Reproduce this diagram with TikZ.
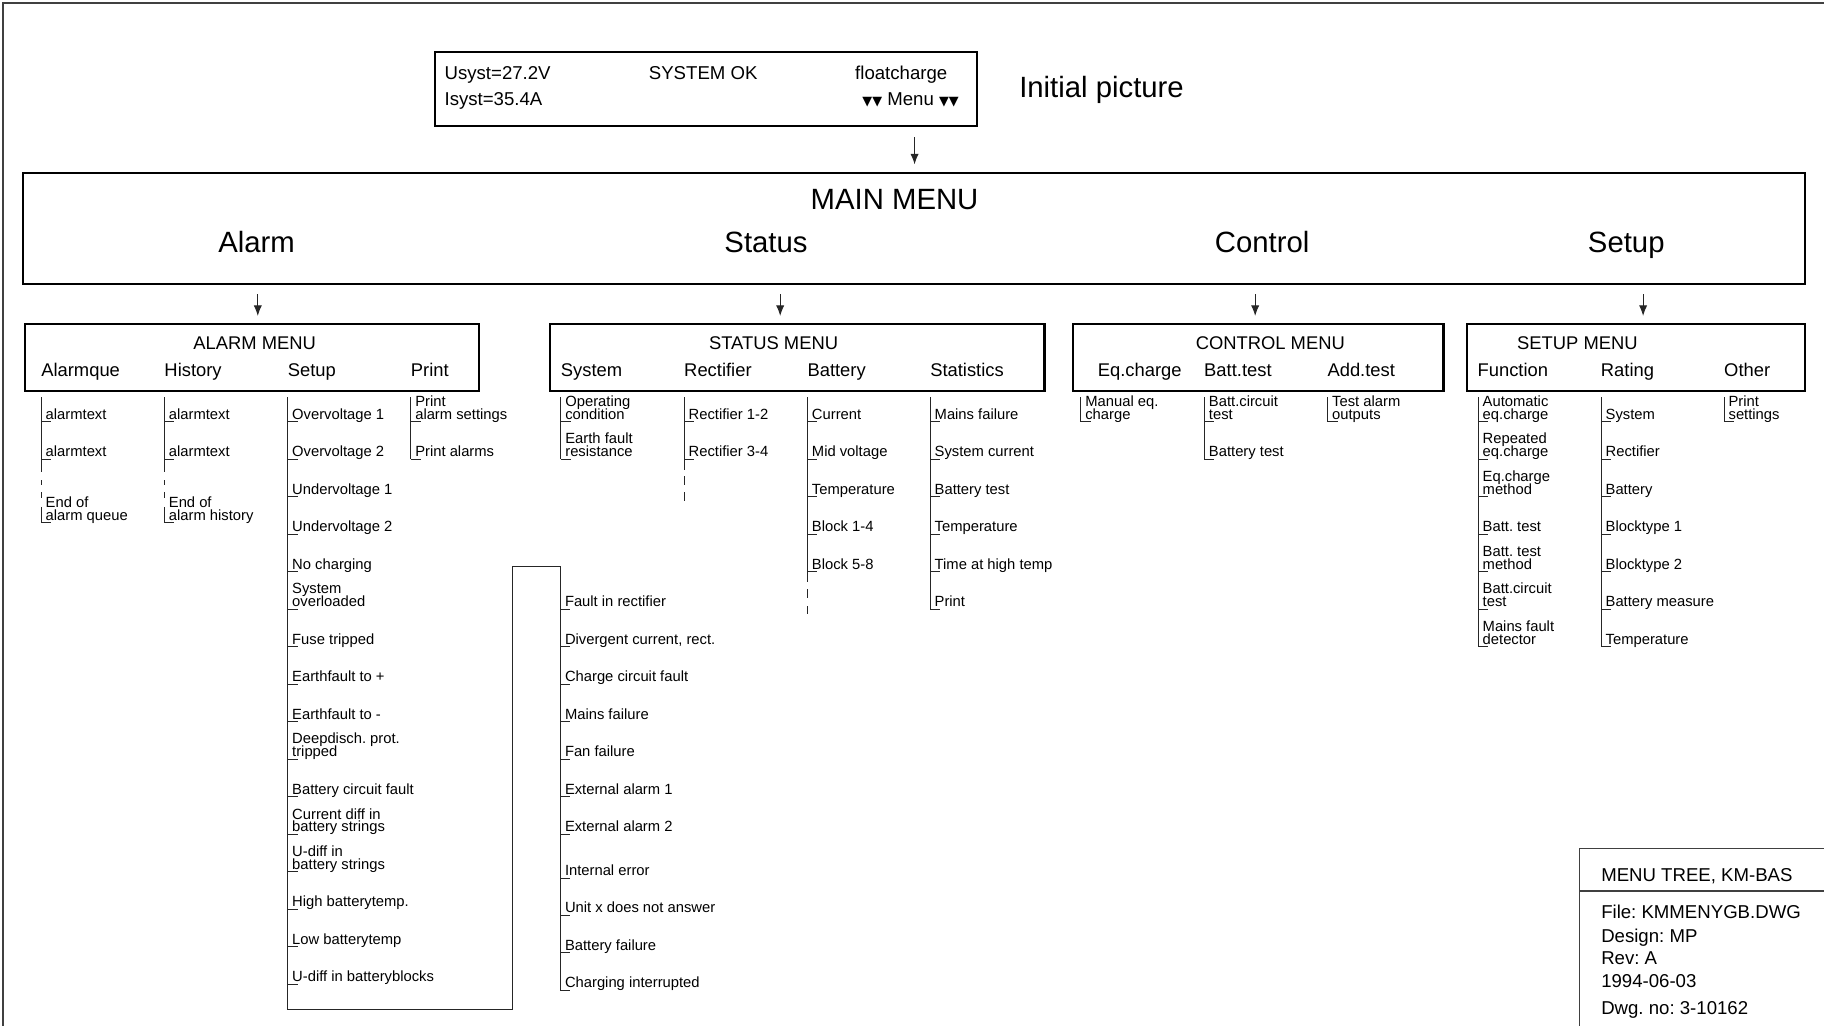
\documentclass[tikz,border=0pt]{standalone}
\usepackage{fontspec}
\setmainfont{Liberation Sans}
\newfontfamily\dejavu{DejaVu Sans}
\usetikzlibrary{arrows.meta}
\frenchspacing
\newcommand\itemfont{\fontsize{12.7}{11}\selectfont\lineskiplimit=-20pt\lineskip=0pt}
\newcommand\hdrfont{\fontsize{15.8}{18}\selectfont}
\newcommand\bigfont{\fontsize{25.2}{28}\selectfont}
\newcommand\midfont{\fontsize{16}{19}\selectfont}
\newcommand\tri{{\dejavu\fontsize{11}{12}\selectfont ▼▼}}
% regular column: prefix, x, first y, list of texts
\newcommand\mkcol[4]{%
  \foreach \txt [count=\n] in {#4} {%
    \pgfmathsetmacro\yy{#3+32.25*(\n-1)}
    \draw[tline] (#2,\yy) -- ++(8.6,0);
    \node[item] (#1\n) at (#2+3.8,\yy-2) {\txt};
  }}
% column with explicit y: prefix, x, list of y/text
\newcommand\mkcolxy[3]{%
  \foreach \yv/\txt [count=\n] in {#3} {%
    \draw[tline] (#2,\yv) -- ++(8.6,0);
    \node[item] (#1\n) at (#2+3.8,\yv-2) {\txt};
  }}
\begin{document}
\begin{tikzpicture}[x=1pt,y=-1pt,
  box/.style={draw, line width=1.8pt, inner sep=0pt, anchor=north west},
  tline/.style={line width=0.75pt, black!85},
  frameline/.style={line width=1pt, black!75},
  arr/.style={-{Latex[length=9pt,width=7pt]}, line width=0.8pt, black!85},
  item/.style={anchor=south west, inner sep=0pt, text depth=0pt, align=left, font=\itemfont},
  hdr/.style={anchor=base west, inner sep=0pt, font=\hdrfont},
  hdrc/.style={anchor=base, inner sep=0pt, font=\hdrfont},
  mainlbl/.style={anchor=base, inner sep=0pt, font=\bigfont},
  lcd/.style={inner sep=0pt, font=\midfont},
  tb/.style={anchor=base west, inner sep=0pt, font=\midfont}
]
\useasboundingbox (0,0) rectangle (1568,882);

% partial outer frame
\draw[frameline] (2.6,882) -- (2.6,2.6) -- (1568,2.6);

% initial picture
\node[box, minimum width=466pt, minimum height=63.7pt] (init) at (373.3,43.8) {};
\node[lcd, anchor=base west] (iU) at (382,68.2) {Usyst=27.2V};
\node[lcd, anchor=base west] (iI) at (382,90.3) {Isyst=35.4A};
\node[lcd, anchor=base] (iS) at (604.5,68.2) {SYSTEM OK};
\node[lcd, anchor=base west] (iF) at (735,68.2) {floatcharge};
\node[lcd, anchor=base] (iM) at (782.8,90.3) {\tri\ Menu \tri};
\node[anchor=base west, inner sep=0pt, font=\bigfont] (ipic) at (876,84) {Initial picture};

% main menu
\node[box, minimum width=1532pt, minimum height=95.4pt] (main) at (19,147.6) {};
\node[mainlbl] (mmT) at (769,180) {MAIN MENU};
\node[mainlbl] (mAl) at (220.6,217.2) {Alarm};
\node[mainlbl] (mSt) at (658.5,217.2) {Status};
\node[mainlbl] (mCo) at (1085,217.2) {Control};
\node[mainlbl] (mSe) at (1398,217.2) {Setup};

% submenu boxes
\node[box, minimum width=390pt, minimum height=57.9pt] (alarmm) at (20.8,277.4) {};
\node[box, minimum width=424.8pt, minimum height=57.9pt] (statusm) at (472.2,277.4) {};
\node[box, minimum width=318.3pt, minimum height=57.9pt] (controlm) at (921.7,277.4) {};
\node[box, minimum width=291pt, minimum height=57.9pt] (setupm) at (1260,277.4) {};

\node[hdrc] (hA) at (219,300.3) {ALARM MENU};
\node[hdrc] (hS) at (665,300.3) {STATUS MENU};
\node[hdrc] (hC) at (1092,300.3) {CONTROL MENU};
\node[hdrc] (hU) at (1356,300.3) {SETUP MENU};

\node[hdr] (hA1) at (35.3,323.8) {Alarmque};
\node[hdr] (hA2) at (141.2,323.8) {History};
\node[hdr] (hA3) at (247.2,323.8) {Setup};
\node[hdr] (hA4) at (353,323.8) {Print};
\node[hdr] (hS1) at (482,323.8) {System};
\node[hdr] (hS2) at (588,323.8) {Rectifier};
\node[hdr] (hS3) at (694,323.8) {Battery};
\node[hdr] (hS4) at (799.5,323.8) {Statistics};
\node[hdr] (hC1) at (943.5,323.8) {Eq.charge};
\node[hdr] (hC2) at (1035,323.8) {Batt.test};
\node[hdr] (hC3) at (1141,323.8) {Add.test};
\node[hdr] (hU1) at (1270,323.8) {Function};
\node[hdr] (hU2) at (1376,323.8) {Rating};
\node[hdr] (hU3) at (1482,323.8) {Other};

% arrows
\coordinate (x0) at (786.2,0);
\coordinate (x1) at (221.6,0);
\coordinate (x2) at (670.7,0);
\coordinate (x3) at (1079,0);
\coordinate (x4) at (1412.5,0);
\draw[arr, shorten <=8.5pt, shorten >=6.3pt] (init.south -| x0) -- (main.north -| x0);
\draw[arr, shorten <=8pt, shorten >=5.8pt] (main.south -| x1) -- (alarmm.north -| x1);
\draw[arr, shorten <=8pt, shorten >=5.8pt] (main.south -| x2) -- (statusm.north -| x2);
\draw[arr, shorten <=8pt, shorten >=5.8pt] (main.south -| x3) -- (controlm.north -| x3);
\draw[arr, shorten <=8pt, shorten >=5.8pt] (main.south -| x4) -- (setupm.north -| x4);

% ---- Alarm menu columns
% Alarmque
\draw[tline] (35.3,341.6) -- (35.3,406) (35.3,413) -- (35.3,417) (35.3,423) -- (35.3,428) (35.3,436) -- (35.3,449.5);
\mkcolxy{aq}{35.3}{362.5/alarmtext, 394.8/alarmtext, 449.5/{End of\\alarm queue}}
% History
\draw[tline] (141.2,341.6) -- (141.2,406) (141.2,413) -- (141.2,417) (141.2,423) -- (141.2,428) (141.2,436) -- (141.2,449.5);
\mkcolxy{ah}{141.2}{362.5/alarmtext, 394.8/alarmtext, 449.5/{End of\\alarm history}}
% Setup (with continuation)
\draw[tline] (247.2,341.6) -- (247.2,867.4) -- (440.4,867.4) -- (440.4,487) -- (481.7,487) -- (481.7,851);
\mkcol{as}{247.2}{362.5}{Overvoltage 1, Overvoltage 2, Undervoltage 1, Undervoltage 2, No charging, {System\\overloaded}, Fuse tripped, Earthfault to +, Earthfault to -, {Deepdisch. prot.\\tripped}, Battery circuit fault, {Current diff in\\battery strings}, {U-diff in\\battery strings}, High batterytemp., Low batterytemp, U-diff in batteryblocks}
\mkcolxy{ac}{481.7}{523.8/Fault in rectifier, 556/{Divergent current, rect.}, 588.3/Charge circuit fault, 620.6/Mains failure, 652.8/Fan failure, 685/External alarm 1, 717.3/External alarm 2, 755/Internal error, 786.8/Unit x does not answer, 819/Battery failure, 851/Charging interrupted}
% Print
\draw[tline] (353,341.6) -- (353,394.8);
\mkcol{ap}{353}{362.5}{{Print\\alarm settings}, Print alarms}

% ---- Status menu columns
\draw[tline] (482,341.6) -- (482,394.8);
\mkcol{ss}{482}{362.5}{{Operating\\condition}, {Earth fault\\resistance}}
\draw[tline] (588,341.6) -- (588,404) (588,409.5) -- (588,417) (588,423) -- (588,431);
\mkcol{sr}{588}{362.5}{Rectifier 1-2, Rectifier 3-4}
\draw[tline] (694,341.6) -- (694,500) (694,506.6) -- (694,514.3) (694,521) -- (694,528);
\mkcol{sb}{694}{362.5}{Current, Mid voltage, Temperature, Block 1-4, Block 5-8}
\draw[tline] (799.5,341.6) -- (799.5,523.8);
\mkcol{st}{799.5}{362.5}{Mains failure, System current, Battery test, Temperature, Time at high temp, Print}

% ---- Control menu columns
\draw[tline] (929,341.6) -- (929,362.5);
\mkcol{ce}{929}{362.5}{{Manual eq.\\charge}}
\draw[tline] (1035.3,341.6) -- (1035.3,394.8);
\mkcol{cb}{1035.3}{362.5}{{Batt.circuit\\test}, Battery test}
\draw[tline] (1141.2,341.6) -- (1141.2,362.5);
\mkcol{ca}{1141.2}{362.5}{{Test alarm\\outputs}}

% ---- Setup menu columns
\draw[tline] (1270.6,341.6) -- (1270.6,556);
\mkcol{uf}{1270.6}{362.5}{{Automatic\\eq.charge}, {Repeated\\eq.charge}, {Eq.charge\\method}, Batt. test, {Batt. test\\method}, {Batt.circuit\\test}, {Mains fault\\detector}}
\draw[tline] (1376.3,341.6) -- (1376.3,556);
\mkcol{ur}{1376.3}{362.5}{System, Rectifier, Battery, Blocktype 1, Blocktype 2, Battery measure, Temperature}
\draw[tline] (1482,341.6) -- (1482,362.5);
\mkcol{uo}{1482}{362.5}{{Print\\settings}}

% ---- title block
\draw[frameline] (1357.6,882) -- (1357.6,729.3) -- (1568,729.3);
\draw[frameline] (1357.6,766) -- (1568,766);
\node[tb] (tb1) at (1376.3,757.9) {MENU TREE, KM-BAS};
\node[tb] (tb2) at (1376.3,790) {File: KMMENYGB.DWG};
\node[tb] (tb3) at (1376.3,810) {Design: MP};
\node[tb] (tb4) at (1376.3,829) {Rev: A};
\node[tb] (tb5) at (1376.3,848.7) {1994-06-03};
\node[tb] (tb6) at (1376.3,871.9) {Dwg. no: 3-10162};
\end{tikzpicture}
\end{document}
